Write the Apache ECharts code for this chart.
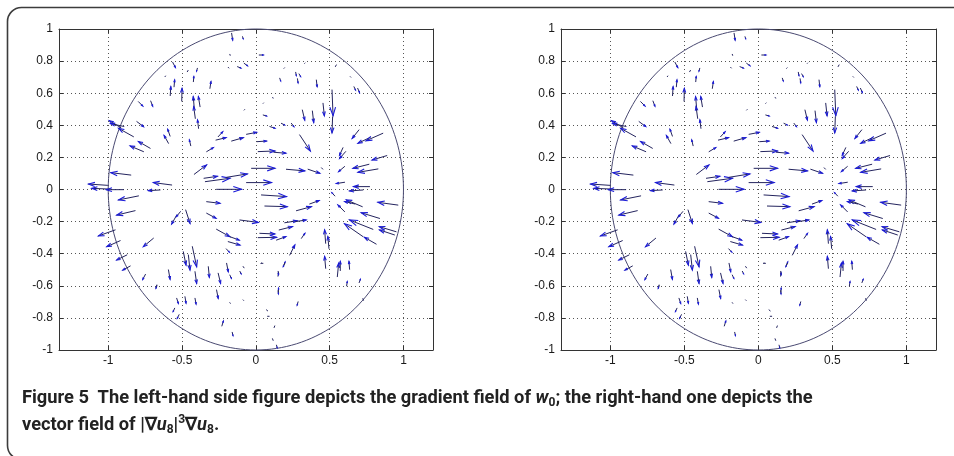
<!DOCTYPE html>
<html>
<head>
<meta charset="utf-8">
<script src="https://cdn.jsdelivr.net/npm/echarts@6/dist/echarts.min.js"></script>
<style>
html,body{margin:0;padding:0;background:#fff;}
#wrap{position:relative;width:954px;height:456px;overflow:hidden;}
#chart{position:absolute;left:0;top:0;width:954px;height:456px;}
#cap{position:absolute;left:22px;top:383px;font-family:Roboto,"Open Sans",sans-serif;font-weight:bold;font-size:18.3px;line-height:27px;color:#222;white-space:nowrap;}
#cap i{font-style:italic;}
#cap sub{font-size:12px;vertical-align:-3px;line-height:0;}
#cap sup{font-size:12px;vertical-align:7px;line-height:0;}
</style>
</head>
<body>
<div id="wrap">
<div id="chart"></div>
<div id="cap">Figure 5&nbsp; The left-hand side figure depicts the gradient field of <i>w</i><sub>0</sub>; the right-hand one depicts the<br>vector field of |∇<i>u</i><sub>8</sub>|<sup>3</sup>∇<i>u</i><sub>8</sub>.</div>
</div>
<script>
// Axis ranges and tick values
const xRange = [-4 / 3, 1.2];
const yRange = [-1, 1];
const yTickStep = 0.2;
const circleData = [[0, 0, 1]]; // centre x, centre y, radius

// Quiver arrows: [x, y, u, v]
const arrowsTop = [
  [-0.164, 0.973, 0.007, -0.042], [-0.09, 0.952, 0.004, -0.012], [-0.176, 0.842, 0.002, -0.006],
  [0.023, 0.838, 0.027, 0], [-0.187, 0.761, 0.004, -0.004], [-0.124, 0.765, 0.022, -0.008],
  [-0.079, 0.786, 0.022, -0.015], [-0.563, 0.792, 0.018, -0.031], [-0.615, 0.703, 0.003, 0.004],
  [-0.464, 0.734, 0.005, 0.008], [-0.396, 0.755, -0.005, -0.017], [-0.423, 0.672, 0.003, 0.031],
  [-0.554, 0.640, 0.004, 0.042], [-0.58, 0.585, 0.004, 0.055], [-0.502, 0.551, 0.002, 0.079],
  [-0.311, 0.630, 0.007, 0.042], [-0.417, 0.506, -0.007, 0.072], [-0.378, 0.516, -0.011, 0.062],
  [-0.41, 0.443, -0.011, 0.073], [-0.388, 0.381, -0.007, 0.052], [-0.795, 0.547, 0.029, -0.027],
  [-0.712, 0.551, 0.013, -0.031], [-0.806, 0.423, 0.045, -0.031], [-0.079, 0.495, 0.003, 0.003],
  [0.05, 0.537, 0.002, 0.002], [0.113, 0.572, 0.005, -0.002], [0.05, 0.464, 0.022, -0.006],
  [0.173, 0.412, 0.022, -0.01], [0.241, 0.412, 0.016, -0.02], [0.095, 0.392, 0.034, -0.01],
  [0.191, 0.755, 0.003, 0.003], [0.27, 0.73, 0.004, -0.02], [0.293, 0.72, 0.01, -0.016],
  [0.282, 0.69, 0.004, -0.025], [0.162, 0.693, 0.006, -0.016], [0.331, 0.786, 0.002, 0.002],
  [0.41, 0.682, 0.005, -0.041], [0.516, 0.620, 0.007, -0.16], [0.52, 0.453, -0.004, -0.1],
  [0.315, 0.495, 0.016, -0.062], [0.383, 0.489, 0.009, -0.071], [0.455, 0.537, 0.009, -0.077],
  [0.665, 0.64, 0.01, -0.02], [0.69, 0.63, 0.012, -0.025], [0.545, 0.776, -0.006, -0.01],
  [0.64, 0.703, 0.003, -0.003]
];
const arrowsMiddle = [
  [-0.829, 0.329, -0.101, 0.052], [-0.914, 0.385, -0.079, 0.044], [-0.894, 0.393, -0.09, 0.017],
  [-0.716, 0.257, -0.079, 0.042], [-0.761, 0.236, -0.09, 0.035], [-0.592, 0.288, -0.029, 0.048],
  [-0.581, 0.333, -0.016, 0.042], [-0.441, 0.273, -0.009, 0.035], [-0.255, 0.329, 0.03, 0.03],
  [-0.27, 0.308, 0.068, 0.015], [-0.164, 0.302, 0.079, 0.021], [-0.063, 0.344, 0.068, 0.012],
  [0.009, 0.298, 0.063, 0.004], [0.016, 0.236, 0.113, 0.004], [0.122, 0.232, 0.081, -0.006],
  [0.297, 0.34, 0.072, -0.1], [-0.333, 0.236, 0.045, 0.025], [-0.417, 0.095, 0.083, 0.058],
  [-0.351, 0.07, 0.09, 0.012], [-0.342, 0.049, 0.167, 0.021], [-0.198, 0.076, 0.14, 0.021],
  [-0.029, 0.132, 0.158, 0], [0.207, 0.126, 0.124, -0.01], [0.354, 0.126, 0.079, -0.025],
  [0.445, 0.135, 0.008, -0.008], [0.601, 0.143, -0.04, -0.031], [0.766, 0.157, -0.108, -0.025],
  [0.827, 0.128, -0.135, -0.021], [0.887, 0.211, -0.099, -0.027], [0.608, 0.236, -0.04, -0.042],
  [0.698, 0.371, -0.045, -0.052], [0.775, 0.325, -0.083, -0.037], [0.86, 0.35, -0.113, -0.046],
  [0.59, 0.26, -0.023, -0.046], [0.601, 0.045, -0.056, -0.008], [0.77, 0.018, -0.108, 0],
  [0.725, -0.003, -0.09, -0.006]
];
const arrowsAxis = [
  [-0.847, 0.09, -0.135, 0.015], [-1.005, 0.026, -0.128, 0.008], [-0.998, 0.003, -0.113, 0.004],
  [-0.896, -0.001, -0.117, 0], [-0.57, 0.028, -0.124, 0.015], [-0.649, -0.003, -0.079, -0.004],
  [-0.266, 0.001, 0.169, 0], [-0.063, 0.043, 0.169, 0]
];
const arrowsLower = [
  [-0.795, -0.04, -0.135, -0.025], [-0.818, -0.132, -0.124, -0.027], [-0.953, -0.252, -0.113, -0.037],
  [-0.919, -0.319, -0.09, -0.037], [-0.874, -0.408, -0.068, -0.031], [-0.851, -0.477, -0.05, -0.025],
  [-0.748, -0.529, -0.018, -0.031], [-0.67, -0.6, -0.006, -0.015], [-0.694, -0.304, -0.068, -0.052],
  [-0.536, -0.159, -0.034, -0.056], [-0.511, -0.138, -0.027, -0.031], [-0.475, -0.128, 0.029, -0.083],
  [-0.333, -0.076, 0.09, -0.01], [-0.333, -0.148, 0.063, -0.031], [-0.266, -0.248, 0.09, -0.046],
  [-0.176, -0.294, 0.063, -0.021], [-0.187, -0.325, 0.079, -0.021], [-0.2, -0.37, 0.02, -0.02],
  [-0.108, -0.19, 0.124, -0.015], [0.038, -0.034, 0.169, -0.01], [0.061, -0.103, 0.151, -0.004],
  [0.275, -0.132, 0.101, 0.025], [0.365, -0.09, 0.063, 0.021], [0.196, -0.207, 0.083, 0.012],
  [0.27, -0.2, 0.07, 0.01], [0.027, -0.273, 0.101, -0.004], [0.016, -0.3, 0.124, 0.002],
  [0.14, -0.315, 0.063, 0.021], [0.158, -0.252, 0.09, 0.021], [0.23, -0.408, 0.034, 0.062],
  [0.309, -0.304, 0.023, 0.031], [0.19, -0.47, 0.008, 0.018], [0.15, -0.54, 0.003, 0.02],
  [0.152, -0.64, 0.002, 0.025], [0.034, -0.46, 0.004, 0.002], [0.473, -0.335, -0.007, 0.083],
  [0.495, -0.367, -0.007, 0.073], [0.473, -0.491, -0.007, 0.073], [0.552, -0.543, 0.009, 0.083],
  [0.572, -0.505, 0, 0.056], [0.635, -0.497, -0.004, 0.048], [0.615, -0.6, 0.004, 0.025],
  [0.7, -0.58, 0.008, 0.02], [0.535, -0.04, -0.02, 0.02], [0.601, -0.138, -0.045, 0.042],
  [0.721, -0.107, -0.108, 0.042], [0.67, -0.09, -0.068, 0.015], [0.838, -0.18, -0.124, 0.035],
  [0.962, -0.097, -0.135, 0.017], [0.793, -0.248, -0.158, 0.058], [0.725, -0.293, -0.124, 0.079],
  [0.95, -0.263, -0.113, 0.031], [0.939, -0.283, -0.101, 0.031], [0.815, -0.34, -0.079, 0.042]
];
const arrowsBottom = [
  [-0.491, -0.388, 0.018, -0.083], [-0.457, -0.408, 0.011, -0.093], [-0.43, -0.356, 0.029, -0.125],
  [-0.412, -0.512, 0.011, -0.073], [-0.322, -0.481, 0.007, -0.066], [-0.255, -0.522, 0.016, -0.062],
  [-0.198, -0.46, 0.011, -0.052], [-0.176, -0.533, 0.01, -0.02], [-0.108, -0.51, 0.008, -0.015],
  [-0.086, -0.48, 0.006, -0.008], [-0.592, -0.501, 0.011, -0.058], [-0.671, -0.595, -0.004, -0.015],
  [-0.536, -0.678, 0.011, -0.031], [-0.48, -0.668, 0.007, -0.04], [-0.412, -0.678, 0.007, -0.035],
  [-0.266, -0.626, 0.011, -0.052], [-0.176, -0.705, 0.003, -0.004], [-0.086, -0.688, 0.003, -0.003],
  [-0.55, -0.74, -0.01, -0.02], [-0.52, -0.78, -0.012, -0.022], [-0.23, -0.85, 0.01, 0.03],
  [-0.16, -0.89, 0.005, -0.02], [0.038, -0.46, 0.01, 0], [0.196, -0.46, -0.01, -0.02],
  [0.151, -0.51, 0.003, -0.02], [0.151, -0.63, 0.002, -0.02], [0.286, -0.7, -0.006, -0.02],
  [0.072, -0.75, 0.008, -0.006], [0.08, -0.79, 0.01, 0], [0.128, -0.85, -0.004, -0.01],
  [0.113, -0.93, 0.004, -0.01], [0.14, -0.97, 0.004, -0.015], [0.725, -0.68, 0.004, -0.01]
];
const arrowData = [].concat(arrowsTop, arrowsMiddle, arrowsAxis, arrowsLower, arrowsBottom);

const SHAFT = '#24245e';
const HEAD = '#1a1ad8';
function renderArrow(params, api) {
  const x = api.value(0), y = api.value(1), u = api.value(2), v = api.value(3);
  const p0 = api.coord([x, y]);
  const p1 = api.coord([x + u, y + v]);
  const dx = p1[0] - p0[0], dy = p1[1] - p0[1];
  const L = Math.sqrt(dx * dx + dy * dy);
  const children = [{
    type: 'line',
    shape: { x1: p0[0], y1: p0[1], x2: p1[0], y2: p1[1] },
    style: { stroke: SHAFT, lineWidth: 1, lineCap: 'round' }
  }];
  if (L > 2) {
    const bx = dx * 0.33, by = dy * 0.33;
    const px = -dy * 0.11, py = dx * 0.11;
    children.push({
      type: 'polyline',
      shape: { points: [[p1[0] - bx + px, p1[1] - by + py], [p1[0], p1[1]], [p1[0] - bx - px, p1[1] - by - py]] },
      style: { stroke: HEAD, lineWidth: 1.1, fill: null }
    });
  }
  return { type: 'group', children: children };
}
function renderCircle(params, api) {
  const cx = api.value(0), cy = api.value(1), r = api.value(2);
  const pts = [];
  for (let k = 0; k <= 360; k += 2) {
    const a = k * Math.PI / 180;
    pts.push(api.coord([cx + r * Math.cos(a), cy + r * Math.sin(a)]));
  }
  return { type: 'polyline', shape: { points: pts }, style: { stroke: '#4a4a72', lineWidth: 1, fill: null } };
}

const AX = '#333';
const LABEL = { color: '#1a1a1a', fontSize: 12, fontFamily: 'Liberation Sans, Arial, sans-serif' };
function xAxisPair(gi) {
  return [{
    gridIndex: gi, type: 'value', min: xRange[0], max: xRange[1], position: 'bottom',
    axisLine: { show: true, onZero: false, lineStyle: { color: AX, width: 1 } },
    axisTick: { show: true, inside: true, length: 4, lineStyle: { color: AX } },
    axisLabel: Object.assign({ margin: 5, showMinLabel: false, showMaxLabel: false }, LABEL),
    splitLine: { show: true, lineStyle: { color: '#555', type: [1, 3], width: 1 } }
  }, {
    gridIndex: gi, type: 'value', min: xRange[0], max: xRange[1], position: 'top',
    axisLine: { show: true, onZero: false, lineStyle: { color: AX, width: 1 } },
    axisTick: { show: true, inside: true, length: 4, lineStyle: { color: AX } },
    axisLabel: { show: false }, splitLine: { show: false }
  }];
}
function yAxisPair(gi) {
  return [{
    gridIndex: gi, type: 'value', min: yRange[0], max: yRange[1], interval: yTickStep, position: 'left',
    axisLine: { show: true, onZero: false, lineStyle: { color: AX, width: 1 } },
    axisTick: { show: true, inside: true, length: 4, lineStyle: { color: AX } },
    axisLabel: Object.assign({ margin: 6 }, LABEL),
    splitLine: { show: true, lineStyle: { color: '#555', type: [1, 3], width: 1 } }
  }, {
    gridIndex: gi, type: 'value', min: yRange[0], max: yRange[1], interval: yTickStep, position: 'right',
    axisLine: { show: true, onZero: false, lineStyle: { color: AX, width: 1 } },
    axisTick: { show: true, inside: true, length: 4, lineStyle: { color: AX } },
    axisLabel: { show: false }, splitLine: { show: false }
  }];
}

const chart = echarts.init(document.getElementById('chart'), null, { renderer: 'canvas' });
chart.setOption({
  animation: false,
  backgroundColor: '#fff',
  graphic: [{
    type: 'rect', silent: true, z: -10,
    shape: { x: 7.5, y: 7.5, width: 980, height: 452, r: 14 },
    style: { fill: 'none', stroke: '#3c3c3c', lineWidth: 1.6 }
  }],
  grid: [
    { left: 59, top: 29, width: 374, height: 321 },
    { left: 561, top: 29, width: 375, height: 321 }
  ],
  xAxis: [].concat(xAxisPair(0), xAxisPair(1)),
  yAxis: [].concat(yAxisPair(0), yAxisPair(1)),
  series: [
    { type: 'custom', xAxisIndex: 0, yAxisIndex: 0, data: circleData, renderItem: renderCircle, encode: { x: 0, y: 1 }, clip: false, silent: true },
    { type: 'custom', xAxisIndex: 0, yAxisIndex: 0, data: arrowData, renderItem: renderArrow, encode: { x: 0, y: 1 }, clip: true, silent: true },
    { type: 'custom', xAxisIndex: 2, yAxisIndex: 2, data: circleData, renderItem: renderCircle, encode: { x: 0, y: 1 }, clip: false, silent: true },
    { type: 'custom', xAxisIndex: 2, yAxisIndex: 2, data: arrowData, renderItem: renderArrow, encode: { x: 0, y: 1 }, clip: true, silent: true }
  ]
});
</script>
</body>
</html>
